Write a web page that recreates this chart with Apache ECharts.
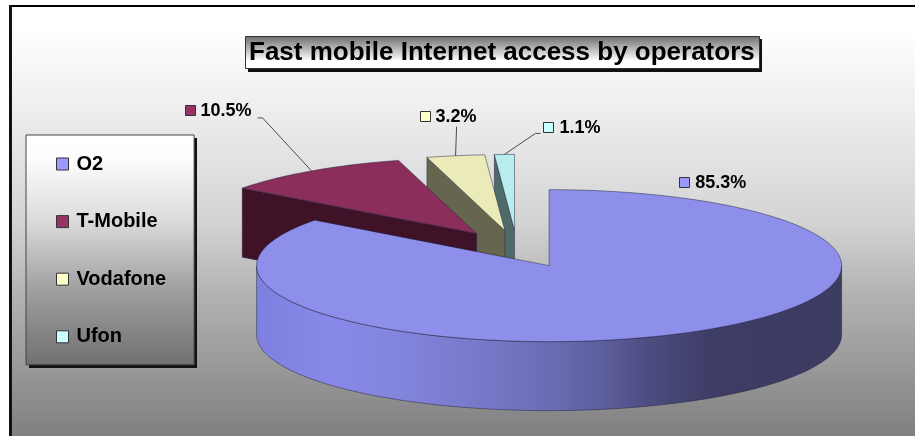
<!DOCTYPE html>
<html>
<head>
<meta charset="utf-8">
<style>html,body{margin:0;padding:0;background:#fff}#chart{width:915px;height:436px}</style>
<script src="https://cdn.jsdelivr.net/npm/echarts@6/dist/echarts.min.js"></script>
</head>
<body>
<div id="chart"></div>
<script>
// Share of fast mobile Internet access, percent
const operators = ['O2', 'T-Mobile', 'Vodafone', 'Ufon'];
const shares = [85.3, 10.5, 3.2, 1.1];
const shareLabels = ['85.3%', '10.5%', '3.2%', '1.1%'];

// Slice colours: legend key, top face, cut face
const keyColors = ['#9999ff', '#993366', '#ffffcc', '#ccffff'];
const topColors = ['#8d8fea', '#8b2e5c', '#ebebba', '#b9ecec'];
const wallColors = ['#3d3c64', '#3f1228', '#66664e', '#4f6a6a'];

// Projection of the tilted pie
const pie = { cx: 517, cy: 249, rx: 292.5, ry: 76, depth: 69, explode: 0.245 };
const FONT = '"Liberation Sans", Arial, sans-serif';

// Label placement relative to the middle of each slice's outer edge
const labelPlacement = [
  { dx: -1, dy: -151, leader: null },
  { dx: -127, dy: -60, leader: [[-49, -53], [-54, -53]] },
  { dx: -36, dy: -39, leader: [[1, -29]] },
  { dx: 39, dy: -26, leader: [[31, -21], [36, -21]] }
];

const total = shares.reduce((a, b) => a + b, 0);
const toRad = d => d * Math.PI / 180;
const sweep = [];
shares.reduce((acc, v) => {
  const a1 = acc + v / total * 360;
  sweep.push([acc, a1]);
  return a1;
}, 0);

function onEllipse(c, deg) {
  const t = toRad(deg);
  return [c[0] + pie.rx * Math.sin(t), c[1] - pie.ry * Math.cos(t)];
}
function arcPoints(c, a0, a1) {
  const pts = [];
  const n = Math.max(2, Math.ceil(Math.abs(a1 - a0) / 1.5));
  for (let i = 0; i <= n; i++) pts.push(onEllipse(c, a0 + (a1 - a0) * i / n));
  return pts;
}
const drop = p => [p[0], p[1] + pie.depth];

function renderSlice(index) {
  const [a0, a1] = sweep[index];
  const mid = toRad((a0 + a1) / 2);
  const c = [
    pie.cx + pie.explode * pie.rx * Math.sin(mid),
    pie.cy - pie.explode * pie.ry * Math.cos(mid)
  ];
  const edge = { stroke: 'rgba(30,30,60,0.6)', lineWidth: 0.8 };
  const children = [];

  // Rim facing the viewer, shaded from the lit left side to the dark right side
  const f0 = Math.max(a0, 90), f1 = Math.min(a1, 270);
  if (f1 > f0) {
    const upper = arcPoints(c, f0, f1);
    children.push({
      type: 'polygon',
      shape: { points: upper.concat(upper.slice().reverse().map(drop)) },
      style: {
        fill: {
          type: 'linear', x: 1, y: 0, x2: 0, y2: 0,
          colorStops: [
            { offset: 0, color: '#3c3b62' },
            { offset: 0.226, color: '#3e3d66' },
            { offset: 0.328, color: '#4c4c80' },
            { offset: 0.414, color: '#5e5f9f' },
            { offset: 0.5, color: '#6b6cb4' },
            { offset: 0.585, color: '#7476c4' },
            { offset: 0.756, color: '#8384dc' },
            { offset: 0.858, color: '#8889e8' },
            { offset: 1, color: '#7e80e0' }
          ]
        },
        ...edge
      }
    });
  }

  // Cut face on the side of the slice that turns toward the viewer
  const wallStart = a0 > 180 && a0 < 360;
  if (wallStart || (a1 > 0 && a1 < 180)) {
    const o = onEllipse(c, wallStart ? a0 : a1);
    children.push({
      type: 'polygon',
      shape: { points: [c, o, drop(o), drop(c)] },
      style: { fill: wallColors[index], ...edge }
    });
  }

  // Top face
  children.push({
    type: 'polygon',
    shape: { points: [c].concat(arcPoints(c, a0, a1)) },
    style: { fill: topColors[index], ...edge }
  });

  // Data label: key square, percentage and optional leader line
  const anchor = onEllipse(c, (a0 + a1) / 2);
  const place = labelPlacement[index];
  const lx = anchor[0] + place.dx, ly = anchor[1] + place.dy;
  if (place.leader) {
    children.push({
      type: 'polyline',
      shape: { points: [anchor].concat(place.leader.map(p => [anchor[0] + p[0], anchor[1] + p[1]])) },
      style: { fill: null, stroke: '#4a4a4a', lineWidth: 1 }
    });
  }
  children.push({
    type: 'rect',
    shape: { x: Math.round(lx) + 0.5, y: Math.round(ly) - 5.5, width: 10, height: 10 },
    style: { fill: keyColors[index], stroke: '#333', lineWidth: 1 }
  });
  children.push({
    type: 'text',
    style: {
      text: shareLabels[index], x: lx + 16, y: ly,
      font: 'bold 18px ' + FONT, fill: '#000', align: 'left', verticalAlign: 'middle'
    }
  });
  return { type: 'group', children };
}

// Hard drop shadow behind a framed box
const dropShadow = (x, y, width, height) => ({
  type: 'rect', z: -5, silent: true,
  shape: { x: x + 3, y: y + 3, width, height },
  style: { fill: '#111' }
});

const chart = echarts.init(document.getElementById('chart'), null, { renderer: 'canvas' });
chart.setOption({
  animation: false,
  backgroundColor: '#ffffff',
  title: {
    text: 'Fast mobile Internet access by operators',
    left: 245, top: 36, padding: [3, 5, 3, 4],
    backgroundColor: {
      type: 'linear', x: 0, y: 0, x2: 0, y2: 1,
      colorStops: [
        { offset: 0, color: '#6c6c6c' },
        { offset: 0.75, color: '#ffffff' },
        { offset: 1, color: '#ffffff' }
      ]
    },
    borderColor: '#333', borderWidth: 1,
    textStyle: { fontFamily: FONT, fontWeight: 'bold', fontSize: 26, color: '#000', lineHeight: 27 }
  },
  legend: {
    orient: 'vertical', left: 26, top: 135,
    padding: [19, 28, 18, 30],
    data: operators, icon: 'rect', itemWidth: 12, itemHeight: 12, itemGap: 37.6,
    backgroundColor: {
      type: 'linear', x: 0, y: 0, x2: 0, y2: 1,
      colorStops: [
        { offset: 0, color: '#ffffff' },
        { offset: 0.1, color: '#fdfdfd' },
        { offset: 0.37, color: '#dcdcdc' },
        { offset: 0.67, color: '#a0a0a0' },
        { offset: 1, color: '#707070' }
      ]
    },
    borderColor: '#444', borderWidth: 1,
    itemStyle: { borderColor: '#333', borderWidth: 1 },
    selectedMode: false,
    textStyle: { fontFamily: FONT, fontWeight: 'bold', fontSize: 20, color: '#000', padding: [0, 0, 0, 3] }
  },
  graphic: [
    {
      type: 'rect', z: -10, silent: true,
      shape: { x: 11, y: 6, width: 920, height: 450 },
      style: {
        fill: {
          type: 'linear', x: 0, y: 0, x2: 0, y2: 1,
          colorStops: [
            { offset: 0, color: '#ffffff' },
            { offset: 0.053, color: '#ffffff' },
            { offset: 0.209, color: '#f0f0f0' },
            { offset: 0.476, color: '#d4d4d4' },
            { offset: 0.653, color: '#b0b0b0' },
            { offset: 0.955, color: '#808080' },
            { offset: 1, color: '#808080' }
          ]
        },
        stroke: '#000', lineWidth: 2
      }
    },
    { type: 'rect', z: -9, silent: true, shape: { x: 9, y: 5, width: 3, height: 440 }, style: { fill: '#111' } },
    dropShadow(245, 36, 514, 33),
    dropShadow(26, 135, 168, 230)
  ],
  // One series per operator; O2 sits on top of the exploded smaller slices
  series: operators.map((name, i) => ({
    type: 'custom',
    name,
    coordinateSystem: 'none',
    z: [8, 6, 4, 2][i],
    itemStyle: { color: keyColors[i] },
    data: [[shares[i]]],
    renderItem: () => renderSlice(i)
  }))
});
</script>
</body>
</html>
